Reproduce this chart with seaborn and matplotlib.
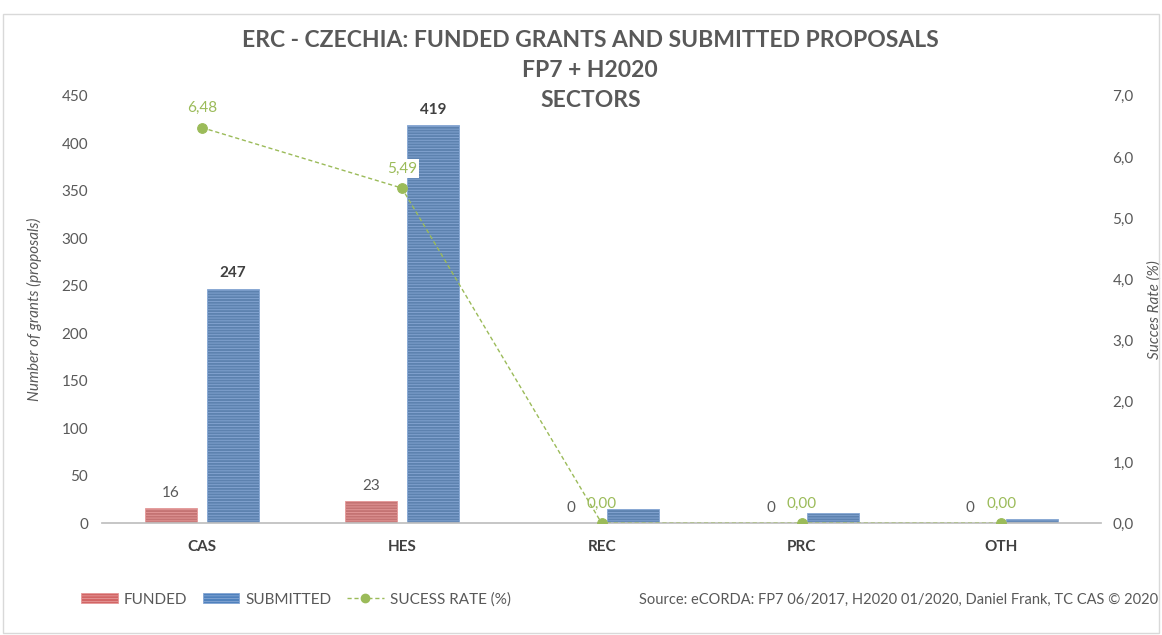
import numpy as np
import pandas as pd
import seaborn as sns
import matplotlib.pyplot as plt
from matplotlib.patches import Patch
from matplotlib.lines import Line2D

# Datos
sectors = ["CAS", "HES", "REC", "PRC", "OTH"]
funded = [16, 23, 0, 0, 0]
submitted = [247, 419, 15, 11, 4]
success_rate = [6.48, 5.49, 0.00, 0.00, 0.00]

sns.set_theme(style="white")
plt.rcParams['font.family'] = ['Lato', 'DejaVu Sans']
plt.rcParams['hatch.linewidth'] = 0.6

gray = "#595959"
red = "#D26565"
blue = "#4F81BD"
green = "#9BBB59"

df = pd.DataFrame({
    "sector": sectors * 2,
    "value": funded + submitted,
    "type": ["FUNDED"] * 5 + ["SUBMITTED"] * 5,
})

fig = plt.figure(figsize=(11.62, 6.35), dpi=100)
ax = fig.add_axes([0.0878, 0.176, 0.860, 0.673])

sns.barplot(data=df, x="sector", y="value", hue="type", order=sectors,
            palette=[red, blue], width=0.62, gap=0.16, ax=ax, legend=False)

hatch_cols = {"FUNDED": "#E59A9A", "SUBMITTED": "#86A7D4"}
for cont, key in zip(ax.containers, ["FUNDED", "SUBMITTED"]):
    for b in cont:
        b.set_hatch("------")
        b.set_edgecolor(hatch_cols[key])
        b.set_linewidth(0.6)

ax.set_ylim(0, 450)
ax.set_xlim(-0.5, 4.5)
ax.set_yticks(range(0, 451, 50))
ax.tick_params(axis="y", colors=gray, labelsize=11, length=0, pad=10)
ax.tick_params(axis="x", colors="#404040", labelsize=11, length=0, pad=12)
for lab in ax.get_xticklabels():
    lab.set_fontweight("bold")
ax.set_xlabel("")
ax.set_ylabel("Number of grants (proposals)", color=gray, fontsize=11,
              fontstyle="italic", labelpad=14)
for s in ["top", "left", "right"]:
    ax.spines[s].set_visible(False)
ax.spines["bottom"].set_color("#BFBFBF")

# Etiquetas de barras (los envíos solo se rotulan donde hay financiación)
for cont, key in zip(ax.containers, ["FUNDED", "SUBMITTED"]):
    for b, f, s in zip(cont, funded, submitted):
        xc = b.get_x() + b.get_width() / 2
        if key == "FUNDED":
            ax.annotate(str(f), (xc, f), xytext=(0, 6), textcoords="offset points",
                        ha="center", va="bottom", color=gray, fontsize=11)
        elif f > 0:
            ax.annotate(str(s), (xc, s), xytext=(0, 6), textcoords="offset points",
                        ha="center", va="bottom", color="#404040", fontsize=11,
                        fontweight="bold")

# Eje secundario: tasa de éxito
ax2 = ax.twinx()
sns.lineplot(x=np.arange(len(sectors)), y=success_rate, ax=ax2, color=green,
             linestyle=(0, (3, 2)), linewidth=1, marker="o", markersize=7,
             markeredgecolor=green)
ax2.set_ylim(0, 7)
ax2.set_yticks(np.arange(0, 7.01, 1))
ax2.set_yticklabels([f"{t:.1f}".replace(".", ",") for t in np.arange(0, 7.01, 1)])
ax2.tick_params(axis="y", colors=gray, labelsize=11, length=0, pad=8)
ax2.set_ylabel("Succes Rate (%)", color=gray, fontsize=11, fontstyle="italic",
               labelpad=10)
for s in ["top", "left", "right", "bottom"]:
    ax2.spines[s].set_visible(False)

for i, r in enumerate(success_rate):
    bbox = dict(facecolor="white", edgecolor="none", pad=1.5) if i == 1 else None
    ax2.annotate(f"{r:.2f}".replace(".", ","), (i, r), xytext=(0, 9),
                 textcoords="offset points", ha="center", va="bottom",
                 color=green, fontsize=11, bbox=bbox)

# Título
title_kw = dict(ha="center", va="center", fontsize=16.5, fontweight="bold", color=gray)
fig.text(0.508, 0.936, "ERC - CZECHIA: FUNDED GRANTS AND SUBMITTED PROPOSALS", **title_kw)
fig.text(0.508, 0.889, "FP7 + H2020", **title_kw)
fig.text(0.508, 0.842, "SECTORS", **title_kw)

# Leyenda
handles = [
    Patch(facecolor=red, edgecolor=hatch_cols["FUNDED"], hatch="------", linewidth=0.6),
    Patch(facecolor=blue, edgecolor=hatch_cols["SUBMITTED"], hatch="------", linewidth=0.6),
    Line2D([0], [0], color=green, linestyle=(0, (3, 2)), linewidth=1, marker="o",
           markersize=6),
]
fig.legend(handles, ["FUNDED", "SUBMITTED", "SUCESS RATE (%)"], loc="center left",
           bbox_to_anchor=(0.058, 0.056), ncol=3, frameon=False, fontsize=11,
           labelcolor=gray, handlelength=2.4, handleheight=0.6, columnspacing=1.0,
           handletextpad=0.4)

fig.text(0.997, 0.056, "Source: eCORDA: FP7 06/2017, H2020 01/2020, Daniel Frank, TC CAS \u00a9 2020",
         ha="right", va="center", fontsize=10.5, color=gray)

# Marco
fig.patches.append(plt.Rectangle((0.003, 0.003), 0.994, 0.975, transform=fig.transFigure,
                                 fill=False, edgecolor="#D9D9D9", linewidth=1))

fig.savefig("out.png", dpi=100)
